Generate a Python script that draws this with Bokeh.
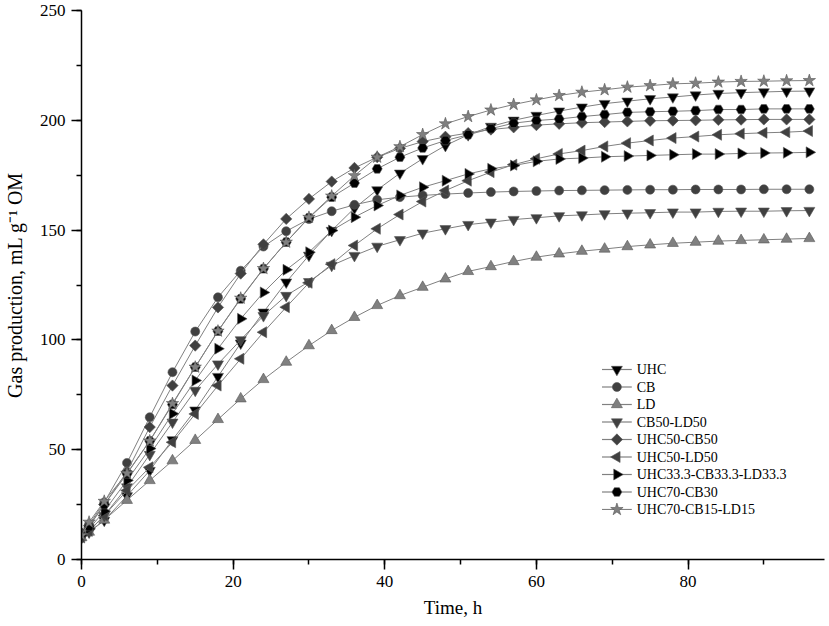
import math
from bokeh.plotting import figure
from bokeh.models import Range1d, SingleIntervalTicker
from bokeh.core.properties import value
from bokeh.embed import file_html
from bokeh.resources import INLINE

time_h = [0, 1, 3, 6, 9, 12, 15, 18, 21, 24, 27, 30, 33, 36, 39, 42, 45, 48, 51, 54,
          57, 60, 63, 66, 69, 72, 75, 78, 81, 84, 87, 90, 93, 96]

uhc = [10, 12.4, 17.8, 29, 40.5, 54.5, 68, 83.3, 98.5, 112.6, 126.3, 138.5, 149.8, 160, 168.3,
       175.9, 182.5, 188.5, 193.4, 197.2, 200, 202.2, 204.2, 206, 207.6, 208.7, 209.8, 210.6,
       211.5, 212.2, 212.6, 212.9, 213.2, 213.3]
cb = [12, 16, 26, 44, 64.8, 85.3, 103.8, 119.4, 131.5, 142.5, 149.5, 155, 158.6, 161.5, 163.8,
      165, 165.8, 166.4, 166.9, 167.3, 167.6, 167.8, 168, 168.1, 168.2, 168.3, 168.4, 168.4,
      168.5, 168.5, 168.5, 168.6, 168.6, 168.6]
ld = [10, 12.5, 18, 27, 36, 45, 54.3, 63.8, 73.2, 82, 89.9, 97.4, 104.3, 110.3, 115.7, 120.2,
      124, 127.8, 131.2, 133.4, 135.7, 137.7, 139.2, 140.4, 141.4, 142.5, 143.3, 144, 144.5,
      145, 145.3, 145.6, 145.9, 146.2]
cb50_ld50 = [10, 13, 20, 33, 47.8, 62.5, 77, 89, 100, 111, 120.2, 126.5, 133.9, 138.4, 142.6,
             145.6, 148.6, 150.6, 152.5, 153.6, 154.8, 155.6, 156.5, 156.9, 157.4, 157.7, 157.9,
             158.2, 158.2, 158.5, 158.6, 158.6, 158.8, 158.9]
uhc50_cb50 = [12, 15.5, 25, 40, 60.3, 79.2, 97.4, 114.8, 130.2, 143.5, 155.1, 164.2, 172.1, 178.3,
              183.2, 187.2, 190.3, 192.5, 194.2, 195.8, 196.8, 197.8, 198.4, 198.9, 199.2, 199.5,
              199.8, 199.9, 200, 200.2, 200.3, 200.4, 200.4, 200.4]
uhc50_ld50 = [10, 13, 20, 31.4, 42, 53.4, 66.3, 79.2, 91.4, 103.5, 114.9, 126, 134.5, 143, 150.6,
              157.1, 163, 168, 172.5, 176.4, 179.8, 182.5, 184.7, 186.2, 188.1, 189.6, 190.8,
              191.9, 192.6, 193.4, 193.9, 194.3, 194.6, 195.1]
uhc33_cb33_ld33 = [11, 14, 22, 36, 50.5, 66.4, 81.5, 96, 109.6, 121.6, 131.9, 139.9, 149.8, 155.9,
                   161.2, 165.8, 169.5, 172.5, 175.6, 177.9, 179.4, 181.3, 182.4, 182.8, 183.4,
                   183.7, 184, 184.3, 184.6, 184.6, 184.9, 185.1, 185.2, 185.4]
uhc70_cb30 = [11, 15, 25, 39, 54, 70.6, 87.6, 104, 118.7, 132.4, 144.5, 155.6, 165, 171.4, 177.9,
              183.2, 187.4, 190.8, 193.4, 196.2, 198.7, 199.9, 200.6, 201.7, 202.6, 203.6, 203.9,
              204.1, 204.4, 204.9, 204.9, 205.2, 205.2, 205.2]
uhc70_cb15_ld15 = [11, 17, 26.5, 39.3, 54, 71, 87.6, 104, 119, 132.5, 144.5, 155.8, 165.5, 174.8,
                   183.2, 188, 193.5, 198.4, 201.7, 204.7, 207.2, 209.3, 211.3, 212.8, 213.9,
                   215.1, 215.8, 216.6, 216.9, 217.4, 217.7, 217.8, 218, 218.1]

series_labels = ["UHC", "CB", "LD", "CB50-LD50", "UHC50-CB50", "UHC50-LD50",
                 "UHC33.3-CB33.3-LD33.3", "UHC70-CB30", "UHC70-CB15-LD15"]
series_values = [uhc, cb, ld, cb50_ld50, uhc50_cb50, uhc50_ld50, uhc33_cb33_ld33,
                 uhc70_cb30, uhc70_cb15_ld15]

# style per series: marker, fill colour, size, angle
markers = ["inverted_triangle", "circle", "triangle", "inverted_triangle", "square",
           "triangle", "triangle", "hex", "star"]
fills = ["#000000", "#404040", "#808080", "#404040", "#404040", "#404040", "#000000",
         "#000000", "#808080"]
sizes = [11, 9, 11, 11, 8, 11, 11, 10, 13]
angles = [0.0, 0.0, 0.0, 0.0, math.pi / 4, math.pi / 2, -math.pi / 2, 0.0, 0.0]

FONT = "Liberation Serif"
W, H = 827, 624
BL, BR, BT, BB = 76, 3, 10, 65
FW, FH = W - BL - BR, H - BT - BB

p = figure(width=W, height=H, output_backend="svg", toolbar_location=None,
           x_range=Range1d(0, 98.0), y_range=Range1d(0, 250),
           min_border_left=BL, min_border_right=BR, min_border_top=BT, min_border_bottom=BB)
p.outline_line_color = None
p.xgrid.grid_line_color = None
p.ygrid.grid_line_color = None
p.background_fill_color = "white"
p.border_fill_color = "white"

p.xaxis.ticker = SingleIntervalTicker(interval=20, num_minor_ticks=2)
p.yaxis.ticker = SingleIntervalTicker(interval=50, num_minor_ticks=2)
for ax in (p.xaxis, p.yaxis):
    ax.axis_line_color = "black"
    ax.axis_line_width = 1.5
    ax.major_tick_line_color = "black"
    ax.major_tick_line_width = 1.5
    ax.minor_tick_line_color = "black"
    ax.minor_tick_line_width = 1.5
    ax.major_tick_in = 0
    ax.major_tick_out = 10
    ax.minor_tick_in = 0
    ax.minor_tick_out = 5
    ax.major_label_text_font = FONT
    ax.major_label_text_font_size = "17px"
    ax.major_label_text_color = "black"
    ax.axis_label_text_font = FONT
    ax.axis_label_text_font_style = "normal"
    ax.axis_label_text_color = "black"
    ax.major_label_standoff = 6
p.xaxis.axis_label_text_font_size = "19px"
p.yaxis.axis_label_text_font_size = "20px"
p.xaxis.axis_label = "Time, h"
p.yaxis.axis_label = "Gas production, mL g\u207b\u00b9 OM"
p.xaxis.axis_label_standoff = 7
p.yaxis.axis_label_standoff = 11

for vals, mk, fc, sz, ang in zip(series_values, markers, fills, sizes, angles):
    p.line(time_h, vals, line_color="#808080", line_width=1)
    p.scatter(time_h, vals, marker=mk, size=sz, angle=ang,
              fill_color=fc, line_color="#555555", line_width=0.6)

# legend key, laid out in frame pixels (x from frame left, y from frame bottom)
p.extra_x_ranges["key"] = Range1d(0, FW)
p.extra_y_ranges["key"] = Range1d(0, FH)
KEY_X, KEY_Y, ROW, LINE_W, GAP = 524, 190, 17.5, 30, 5
n = len(series_labels)
rows_y = [KEY_Y - ROW * i for i in range(n)]
p.segment(x0=[KEY_X] * n, y0=rows_y, x1=[KEY_X + LINE_W] * n, y1=rows_y,
          line_color="#808080", line_width=1.2, x_range_name="key", y_range_name="key")
p.scatter(x=[KEY_X + LINE_W / 2] * n, y=rows_y, marker=markers, size=sizes, angle=angles,
          fill_color=fills, line_color="#555555", line_width=0.6,
          x_range_name="key", y_range_name="key")
p.text(x=[KEY_X + LINE_W + GAP] * n, y=rows_y, text=series_labels,
       text_font=value(FONT), text_font_size="14px", text_color="black",
       text_align="left", text_baseline="middle", x_range_name="key", y_range_name="key")

open("out.html", "w").write(file_html(p, INLINE))
